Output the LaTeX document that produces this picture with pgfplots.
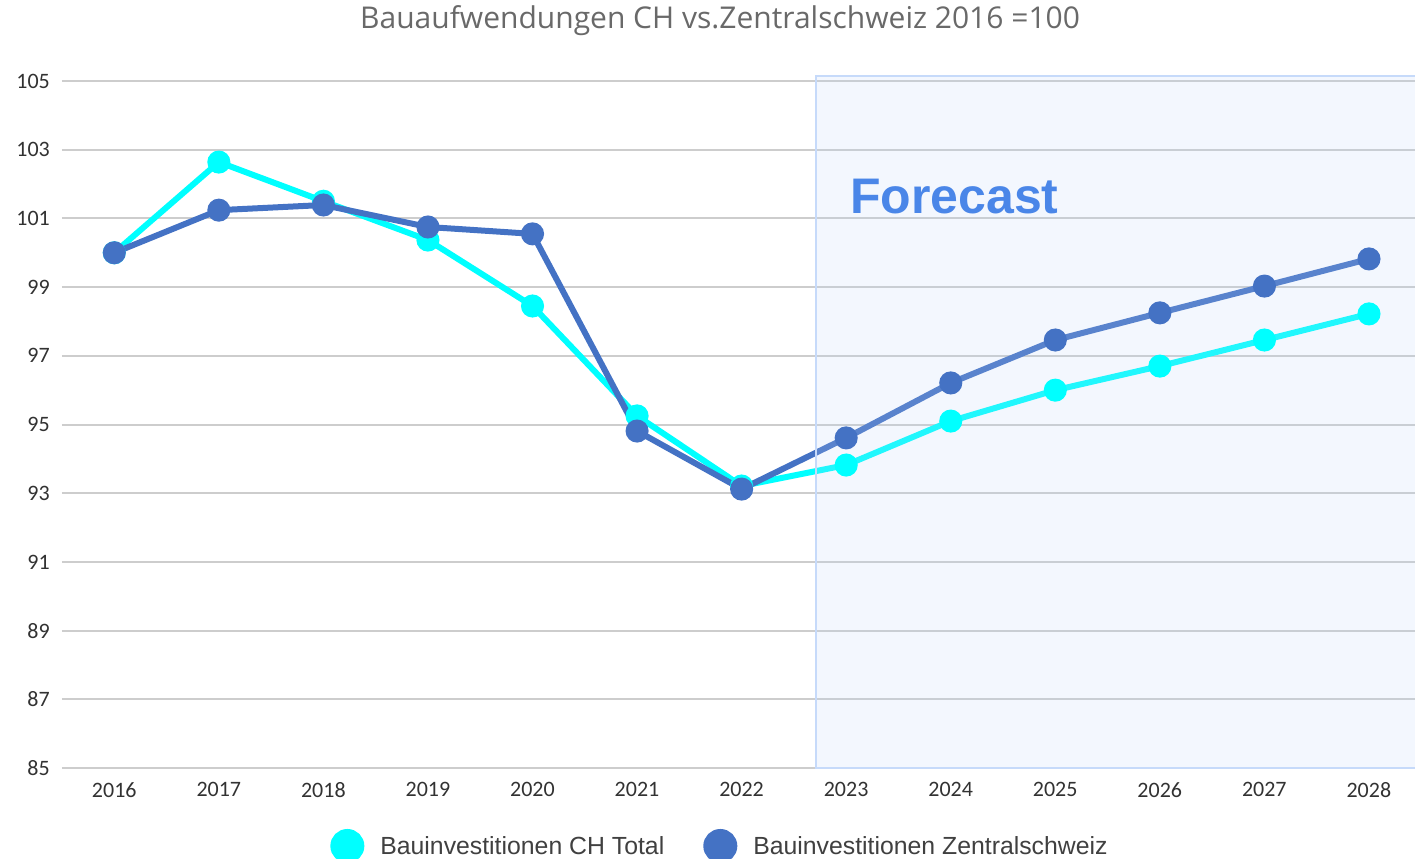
\documentclass[border=0pt]{standalone}
\usepackage{fontspec}
\usepackage{pgfplots}
\pgfplotsset{compat=1.18}
\setmainfont{Carlito}
\newfontfamily\titlefont{Open Sans}
\newfontfamily\legfont{Liberation Sans}
\definecolor{cyanline}{RGB}{0,255,255}
\definecolor{blueline}{RGB}{68,114,196}
\definecolor{gridc}{RGB}{205,205,205}
\definecolor{fcfill}{RGB}{188,211,249}
\definecolor{fcborder}{RGB}{198,218,250}
\definecolor{fctext}{RGB}{74,134,232}
\definecolor{titlec}{RGB}{105,105,105}
\definecolor{tickc}{RGB}{50,50,50}
\definecolor{legc}{RGB}{64,64,64}
\begin{document}
\begin{tikzpicture}
\path[use as bounding box] (0,0) rectangle (1415bp,-859bp);
\begin{axis}[
  at={(62bp,-768bp)}, anchor=south west,
  scale only axis, width=1353bp, height=687bp,
  xmin=2015.5, xmax=2028.44, ymin=85, ymax=105,
  xtick={2016,...,2028}, ytick={85,87,...,105},
  clip=false,
  axis line style={draw=none},
  major tick style={draw=none},
  ymajorgrids, xmajorgrids=false,
  major grid style={gridc, line width=2bp},
  /pgf/number format/.cd, 1000 sep={}, assume math mode=true, /pgfplots/.cd,
  tick label style={font=\fontsize{22bp}{26bp}\selectfont, text=tickc},
  yticklabel style={anchor=east, inner sep=0pt, xshift=-12bp},
  xticklabel style={anchor=north, inner sep=0pt, yshift=-14bp},
  legend columns=2,
  legend style={at={(axis description cs:0.4863,-0.1135)}, anchor=center,
    draw=none, fill=none, font=\legfont\fontsize{24.8bp}{28bp}\selectfont, text=legc,
    /tikz/every even column/.append style={column sep=37bp}},
  legend image code/.code={\fill (0bp,0bp) circle (14bp); \path[draw=none, fill=none] (31bp,0bp);},
]
\addplot[cyanline, line width=6bp, mark=*, mark size=8.5bp, mark options={solid, fill=cyanline, draw=none}]
  coordinates {(2016,100.0) (2017,102.64) (2018,101.5) (2019,100.37) (2020,98.45) (2021,95.25) (2022,93.21)
               (2023,93.82) (2024,95.1) (2025,96.0) (2026,96.7) (2027,97.46) (2028,98.22)};
\addlegendentry{Bauinvestitionen CH Total}
\addplot[blueline, line width=6bp, mark=*, mark size=8.5bp, mark options={solid, fill=blueline, draw=none}]
  coordinates {(2016,100.0) (2017,101.24) (2018,101.39) (2019,100.75) (2020,100.55) (2021,94.81) (2022,93.12)
               (2023,94.61) (2024,96.21) (2025,97.46) (2026,98.25) (2027,99.03) (2028,99.82)};
\addlegendentry{Bauinvestitionen Zentralschweiz}
\fill[fcfill, fill opacity=0.18] (axis cs:2022.71,85) rectangle (axis cs:2028.6,105.15);
\draw[fcborder, line width=1.5bp] (axis cs:2028.6,85) -- (axis cs:2022.71,85) -- (axis cs:2022.71,105.15) -- (axis cs:2028.6,105.15);
\end{axis}
\node[anchor=base west, inner sep=0pt, text=fctext, font=\legfont\bfseries\fontsize{50bp}{56bp}\selectfont] at (850bp,-213bp) {Forecast};
\node[text=titlec, font=\titlefont\fontsize{30bp}{36bp}\selectfont] at (720bp,-21bp) {Bauaufwendungen CH vs.Zentralschweiz 2016 =100};
\end{tikzpicture}
\end{document}
